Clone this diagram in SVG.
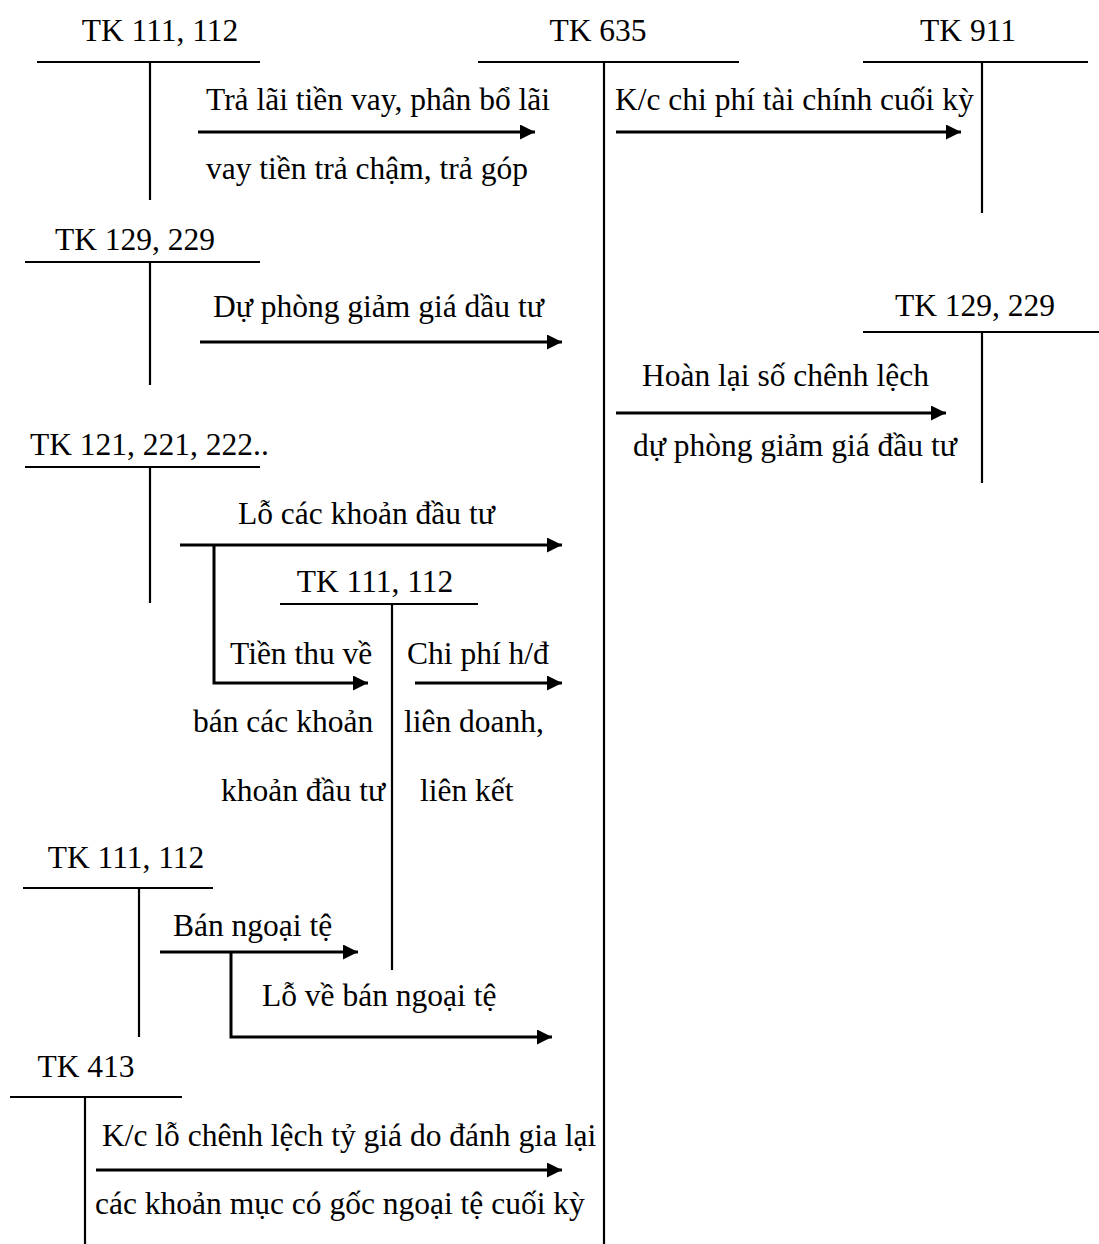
<svg xmlns="http://www.w3.org/2000/svg" width="1099" height="1244" viewBox="0 0 1099 1244">
<style>
text{font-family:"Liberation Serif","Times New Roman",serif;font-size:31.5px;fill:#000}
.t{stroke:#000;stroke-width:2.2;fill:none}
.ah{stroke:#000;stroke-width:3;fill:none;marker-end:url(#arr)}
</style>
<defs>
<marker id="arr" markerUnits="userSpaceOnUse" markerWidth="17" markerHeight="17" refX="15" refY="7.5" orient="auto">
<path d="M0,0 L15,7.5 L0,15 z" fill="#000"/>
</marker>
</defs>
<rect width="1099" height="1244" fill="#fff"/>

<g id="tk111-top">
<text x="160" y="41" text-anchor="middle">TK 111, 112</text>
<line class="t" x1="37" y1="62" x2="260" y2="62"/>
<line class="t" x1="150" y1="62" x2="150" y2="200"/>
</g>
<g id="tk635">
<text x="598" y="41" text-anchor="middle">TK 635</text>
<line class="t" x1="478" y1="62" x2="739" y2="62"/>
<line class="t" x1="604" y1="62" x2="604" y2="1244"/>
</g>
<g id="tk911">
<text x="968" y="41" text-anchor="middle">TK 911</text>
<line class="t" x1="863" y1="62" x2="1088" y2="62"/>
<line class="t" x1="982" y1="62" x2="982" y2="213"/>
</g>
<g id="tk129-left">
<text x="135" y="250" text-anchor="middle">TK 129, 229</text>
<line class="t" x1="25" y1="262" x2="260" y2="262"/>
<line class="t" x1="150" y1="262" x2="150" y2="385"/>
</g>
<g id="tk129-right">
<text x="975" y="316" text-anchor="middle">TK 129, 229</text>
<line class="t" x1="863" y1="332" x2="1099" y2="332"/>
<line class="t" x1="982" y1="332" x2="982" y2="483"/>
</g>
<g id="tk121">
<text x="30" y="455">TK 121, 221, 222..</text>
<line class="t" x1="25" y1="467" x2="260" y2="467"/>
<line class="t" x1="150" y1="467" x2="150" y2="603"/>
</g>
<g id="tk111-mid">
<text x="375" y="592" text-anchor="middle">TK 111, 112</text>
<line class="t" x1="280" y1="604" x2="478" y2="604"/>
<line class="t" x1="392" y1="604" x2="392" y2="970"/>
</g>
<g id="tk111-bottom">
<text x="126" y="868" text-anchor="middle">TK 111, 112</text>
<line class="t" x1="23" y1="888" x2="213" y2="888"/>
<line class="t" x1="139" y1="888" x2="139" y2="1037"/>
</g>
<g id="tk413">
<text x="86" y="1077" text-anchor="middle">TK 413</text>
<line class="t" x1="10" y1="1097" x2="182" y2="1097"/>
<line class="t" x1="85" y1="1097" x2="85" y2="1244"/>
</g>

<g id="connectors">
<line class="ah" x1="198" y1="132" x2="535" y2="132"/>
<line class="ah" x1="616" y1="132" x2="961" y2="132"/>
<line class="ah" x1="200" y1="342" x2="562" y2="342"/>
<line class="ah" x1="616" y1="413" x2="946" y2="413"/>
<line class="ah" x1="180" y1="545" x2="562" y2="545"/>
<polyline class="ah" points="214,545 214,683 368,683"/>
<line class="ah" x1="415" y1="683" x2="562" y2="683"/>
<line class="ah" x1="160" y1="952" x2="358" y2="952"/>
<polyline class="ah" points="231,952 231,1037 552,1037"/>
<line class="ah" x1="96" y1="1170" x2="562" y2="1170"/>
</g>

<g id="labels">
<text x="206" y="110">Trả lãi tiền vay, phân bổ lãi</text>
<text x="206" y="179">vay tiền trả chậm, trả góp</text>
<text x="615" y="110">K/c chi phí tài chính cuối kỳ</text>
<text x="213" y="317">Dự phòng giảm giá dầu tư</text>
<text x="642" y="386">Hoàn lại số chênh lệch</text>
<text x="633" y="456">dự phòng giảm giá đầu tư</text>
<text x="238" y="524">Lỗ các khoản đầu tư</text>
<text x="230" y="664">Tiền thu về</text>
<text x="407" y="664">Chi phí h/đ</text>
<text x="193" y="732">bán các khoản</text>
<text x="404" y="732">liên doanh,</text>
<text x="221" y="801">khoản đầu tư</text>
<text x="420" y="801">liên kết</text>
<text x="173" y="936">Bán ngoại tệ</text>
<text x="262" y="1006">Lỗ về bán ngoại tệ</text>
<text x="102" y="1146">K/c lỗ chênh lệch tỷ giá do đánh gia lại</text>
<text x="95" y="1214">các khoản mục có gốc ngoại tệ cuối kỳ</text>
</g>
</svg>
